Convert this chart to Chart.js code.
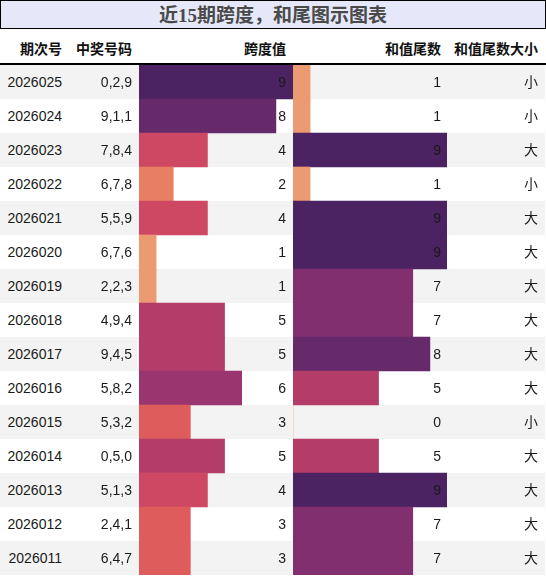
<!DOCTYPE html>
<html>
<head>
<meta charset="utf-8">
<script src="https://cdn.jsdelivr.net/npm/chart.js@4"></script>
<style>
  body { margin: 0; width: 546px; height: 576px; background: #fff; position: relative; overflow: hidden;
         font-family: "Liberation Sans", "Noto Sans CJK SC", sans-serif; color: #1a1a1a; }
  #title { position: absolute; left: 0; top: 0; width: 544px; height: 27px; border: 1px solid #000;
           background: #e6e8fa; text-align: center; line-height: 30px; font-size: 19px; font-weight: bold;
           color: #4a4a4a; font-family: "Liberation Serif", "Noto Sans CJK SC", serif; }
  #hline { position: absolute; left: 0; top: 63px; width: 546px; height: 1.5px; background: #000; }
  .cell { position: absolute; font-size: 14px; white-space: nowrap; text-align: right; z-index: 2; }
  .head { font-weight: bold; font-family: "Noto Sans CJK SC", sans-serif; color: #111; }
  .row { position: absolute; left: 0; width: 545px; height: 34px; }
  .box { position: absolute; top: 65px; width: 154px; height: 510px; z-index: 1; }
</style>
</head>
<body>
<div id="title">近15期跨度，和尾图示图表</div>
<div id="hline"></div>
<div id="rows"></div>
<div class="box" style="left:139px"><canvas id="spanChart"></canvas></div>
<div class="box" style="left:293px"><canvas id="tailChart"></canvas></div>
<div id="texts"></div>
<script>
const periods = ['2026025','2026024','2026023','2026022','2026021','2026020','2026019','2026018',
                 '2026017','2026016','2026015','2026014','2026013','2026012','2026011'];
const numbers = ['0,2,9','9,1,1','7,8,4','6,7,8','5,5,9','6,7,6','2,2,3','4,9,4',
                 '9,4,5','5,8,2','5,3,2','0,5,0','5,1,3','2,4,1','6,4,7'];
const spans = [9, 8, 4, 2, 4, 1, 1, 5, 5, 6, 3, 5, 4, 3, 3];
const tails = [1, 1, 9, 1, 9, 9, 7, 7, 8, 5, 0, 5, 9, 7, 7];
const sizes = ['小','小','大','小','大','大','大','大','大','大','小','大','大','大','大'];
const headers = ['期次号','中奖号码','跨度值','和值尾数','和值尾数大小'];

// colour per value 0..9
const palette = ['#f0a77c','#ec9a72','#e87f63','#df5c5c','#cf4863','#b43c69','#9b356f','#812f6f','#662a6b','#4b2362'];

document.addEventListener('DOMContentLoaded', function(){
    drawTable();
    loadChart('spanChart', spans);
    loadChart('tailChart', tails);
});

function drawTable(){
    const rows = document.getElementById('rows');
    const texts = document.getElementById('texts');
    const rightEdges = [62, 132, 286, 441, 538];
    const top0 = 65, rowH = 34;

    headers.forEach((h, i) => {
        const d = document.createElement('div');
        d.className = 'cell head';
        d.textContent = h;
        d.style.right = (546 - rightEdges[i]) + 'px';
        d.style.top = '38px';
        d.style.lineHeight = '20px';
        texts.appendChild(d);
    });

    periods.forEach((p, r) => {
        const bg = document.createElement('div');
        bg.className = 'row';
        bg.style.top = (top0 + r * rowH) + 'px';
        bg.style.background = r % 2 === 0 ? '#f3f3f3' : '#ffffff';
        rows.appendChild(bg);

        const vals = [p, numbers[r], spans[r], tails[r], sizes[r]];
        vals.forEach((v, i) => {
            const d = document.createElement('div');
            d.className = 'cell';
            d.textContent = v;
            d.style.right = (546 - rightEdges[i]) + 'px';
            d.style.top = (top0 + r * rowH) + 'px';
            d.style.lineHeight = rowH + 'px';
            texts.appendChild(d);
        });
    });
}

function loadChart(id, values){
    const ctx = document.getElementById(id);
    new Chart(ctx, {
        type: 'bar',
        data: {
            labels: periods,
            datasets: [{
                data: values,
                backgroundColor: values.map(v => palette[v]),
                borderWidth: 0,
                barPercentage: 1,
                categoryPercentage: 1
            }]
        },
        options: {
            indexAxis: 'y',
            responsive: true,
            maintainAspectRatio: false,
            animation: false,
            layout: { padding: 0 },
            plugins: { legend: { display: false }, tooltip: { enabled: false } },
            scales: {
                x: { display: false, min: 0, max: 9 },
                y: { display: false }
            }
        }
    });
}
</script>
</body>
</html>
